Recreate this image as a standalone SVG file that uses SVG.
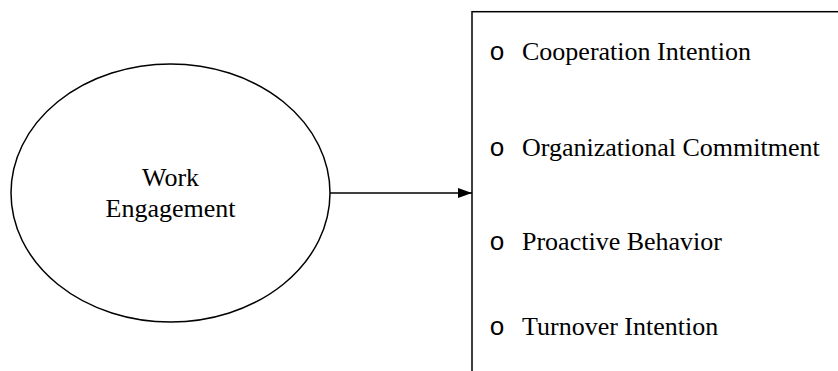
<svg xmlns="http://www.w3.org/2000/svg" width="838" height="371" viewBox="0 0 838 371">
  <style>
    .shape { fill: #fff; stroke: #000; stroke-width: 1.5; }
    .label { font-family: "Liberation Serif", "Times New Roman", serif; font-size: 26px; fill: #000; }
    .bullet { font-family: "Liberation Mono", "Courier New", monospace; font-size: 26px; fill: #000; text-anchor: middle; }
    .link { stroke: #000; stroke-width: 1.5; fill: none; }
  </style>
  <defs>
    <marker id="arrow" markerWidth="14" markerHeight="10" refX="14" refY="5" orient="auto" markerUnits="userSpaceOnUse">
      <path d="M0,0 L14,5 L0,10 Z" fill="#000"/>
    </marker>
  </defs>
  <rect width="838" height="371" fill="#fff"/>

  <g id="work-engagement">
    <ellipse class="shape" cx="170.5" cy="193" rx="159.5" ry="129"/>
    <text class="label" x="170.5" y="186" text-anchor="middle">Work</text>
    <text class="label" x="170.5" y="217" text-anchor="middle">Engagement</text>
  </g>

  <g id="outcomes">
    <rect class="shape" x="472" y="11.7" width="400" height="400"/>
    <text class="bullet" x="497" y="60">o</text>
    <text class="label" x="522" y="60">Cooperation Intention</text>
    <text class="bullet" x="497" y="156">o</text>
    <text class="label" x="522" y="156">Organizational Commitment</text>
    <text class="bullet" x="497" y="250">o</text>
    <text class="label" x="522" y="250">Proactive Behavior</text>
    <text class="bullet" x="497" y="335">o</text>
    <text class="label" x="522" y="335">Turnover Intention</text>
  </g>

  <g id="connectors">
    <line class="link" x1="330" y1="193" x2="472" y2="193" marker-end="url(#arrow)"/>
  </g>
</svg>
